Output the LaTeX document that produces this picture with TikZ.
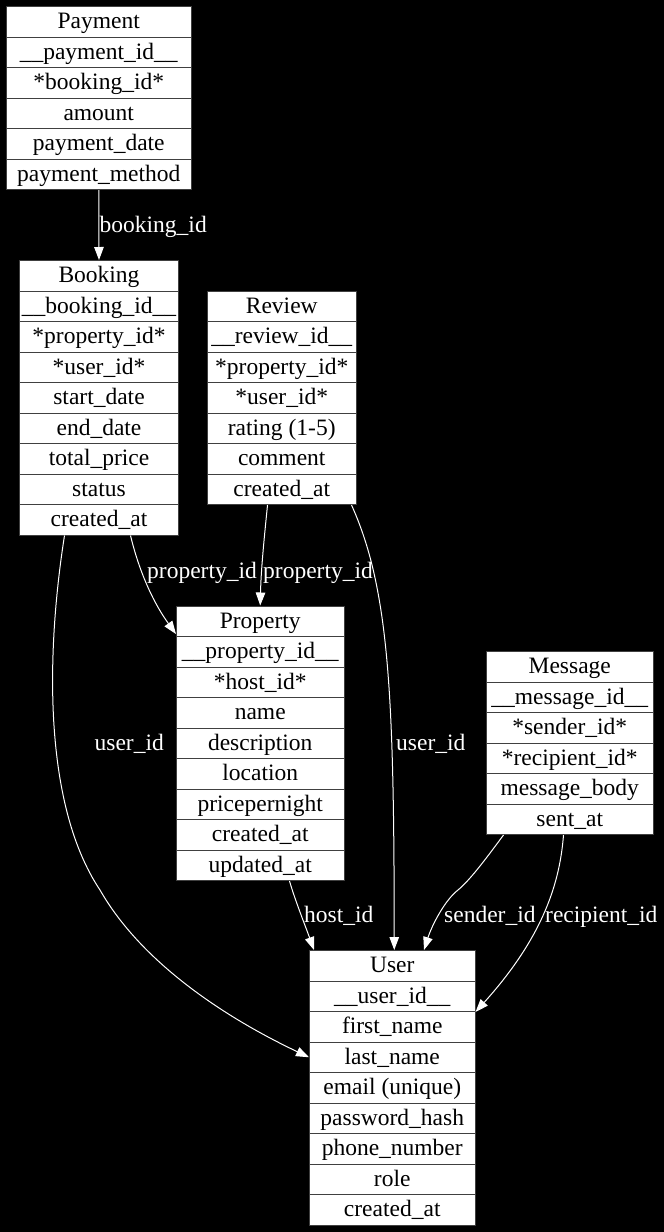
\documentclass[tikz,border=0pt]{standalone}
\usepackage{fontspec}
\setmainfont{Liberation Serif}
\usetikzlibrary{arrows.meta}

% \ertable{name}{left x}{width}{top y}{fields}: one record, a column of stacked fields
\newcommand\ertable[5]{%
  \foreach \t [count=\i from 0] in {#5} {
    \node[field, minimum width=#3pt, anchor=north west] (#1-\i) at (#2, {#4+\i*30.5}) {\t};
  }%
}

\begin{document}
\begin{tikzpicture}[x=1pt, y=-1pt,
  field/.style={draw=black!75, line width=1pt, fill=white, inner sep=0pt,
    minimum height=30.5pt, text height=19pt, text depth=5pt,
    font=\fontsize{23.5}{28}\selectfont, text=black},
  fk/.style={draw=white, line width=1pt, -{Triangle[length=13pt, width=9.5pt]}},
  lbl/.style={text=white, inner sep=0pt, text height=21pt, text depth=5pt,
    font=\fontsize{23.5}{28}\selectfont}]

\fill[black] (0,0) rectangle (664,1232);
\useasboundingbox (0,0) rectangle (664,1232);

% records
\ertable{payment}{5.5}{185.5}{6}{Payment, \_\_payment\_id\_\_, *booking\_id*, amount, payment\_date, payment\_method}
\ertable{booking}{19}{159}{260}{Booking, \_\_booking\_id\_\_, *property\_id*, *user\_id*, start\_date, end\_date, total\_price, status, created\_at}
\ertable{review}{206.5}{149.5}{290.5}{Review, \_\_review\_id\_\_, *property\_id*, *user\_id*, rating (1-5), comment, created\_at}
\ertable{property}{176}{167.5}{605.5}{Property, \_\_property\_id\_\_, *host\_id*, name, description, location, pricepernight, created\_at, updated\_at}
\ertable{message}{486}{166.5}{651}{Message, \_\_message\_id\_\_, *sender\_id*, *recipient\_id*, message\_body, sent\_at}
\ertable{user}{309}{165.5}{950}{User, \_\_user\_id\_\_, first\_name, last\_name, email (unique), password\_hash, phone\_number, role, created\_at}

% foreign keys
\draw[fk] (payment-5.south) -- (booking-0.north);
\draw[fk] ([xshift=31.5pt]booking-8.south) .. controls (140,575) and (155,605) .. ([yshift=3pt]property-0.south west);
\draw[fk] ([xshift=-14.25pt]review-6.south) .. controls (264,540) and (261,570) .. (property-0.north);
\draw[fk] ([xshift=69.75pt]review-6.south) .. controls (390,590) and (394,700) .. ([xshift=2pt]user-0.north);
\draw[fk] ([xshift=-34.5pt]booking-8.south) .. controls (48,640) and (40,800) .. (100,890)
  .. controls (140,960) and (220,1015) .. (user-3.west);
\draw[fk] ([xshift=29.25pt]property-8.south) .. controls (295,900) and (305,925) .. ([xshift=5pt]user-0.north west);
\draw[fk] ([xshift=-66.25pt]message-5.south) .. controls (485,860) and (470,880) .. (458,890)
  .. controls (445,900) and (432,925) .. ([xshift=31.75pt]user-0.north);
\draw[fk] ([xshift=-6.25pt]message-5.south) .. controls (560,880) and (545,935) .. (user-1.south east);

% key labels
\node[lbl, anchor=west] (l-pay) at (99.5,224) {booking\_id};
\node[lbl, anchor=west] (l-bprop) at (147,570) {property\_id};
\node[lbl, anchor=west] (l-rprop) at (263,570) {property\_id};
\node[lbl, anchor=east] (l-buser) at (164,742) {user\_id};
\node[lbl, anchor=west] (l-ruser) at (396,742) {user\_id};
\node[lbl, anchor=west] (l-host) at (304,914) {host\_id};
\node[lbl, anchor=west] (l-send) at (444,914) {sender\_id};
\node[lbl, anchor=west] (l-recv) at (545,914) {recipient\_id};
\end{tikzpicture}
\end{document}
